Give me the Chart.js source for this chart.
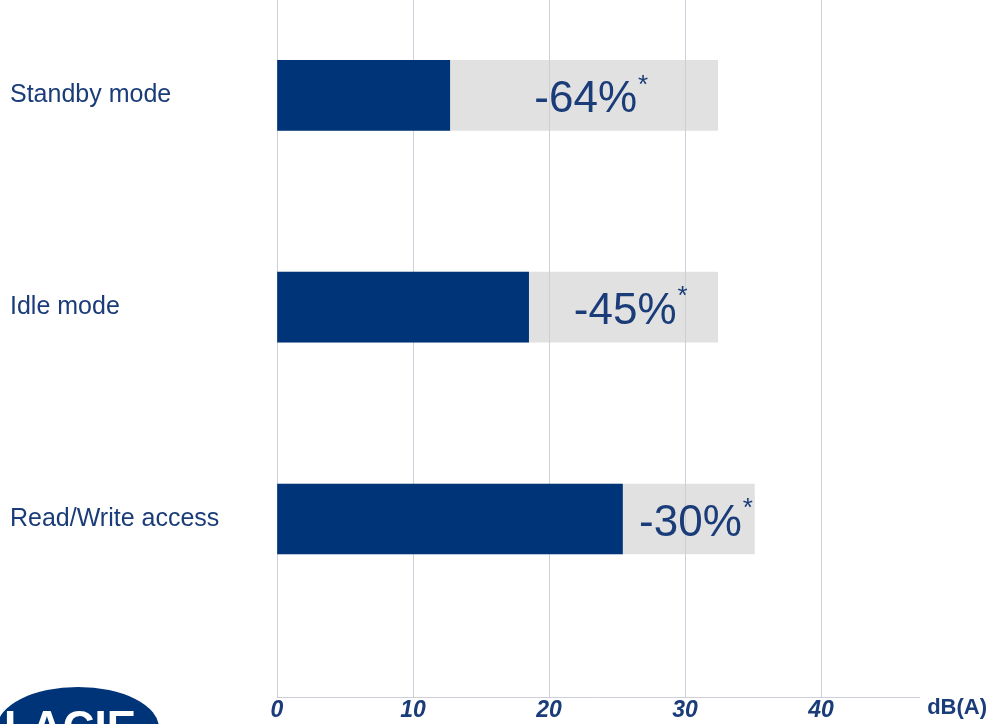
<!DOCTYPE html>
<html>
<head>
<meta charset="utf-8">
<script src="https://cdn.jsdelivr.net/npm/chart.js@4/dist/chart.umd.min.js"></script>
<style>
  html, body { margin: 0; padding: 0; background: #fff; }
  #wrap { width: 990px; height: 724px; position: relative; }
</style>
</head>
<body>
<div id="wrap"><canvas id="myChart"></canvas></div>
<script>
// data (dB(A))
var modes = ["Standby mode", "Idle mode", "Read/Write access"];
var newDrive = [12.7, 18.5, 25.4];
var oldDrive = [32.4, 32.4, 35.1];
var reductions = ["-64%", "-45%", "-30%"];
var xTicks = [0, 10, 20, 30, 40];

var navy = '#003478';
var textNavy = '#1a3c78';

// percent labels inside the grey part + unit + logo
var extras = {
  id: 'extras',
  afterDatasetsDraw: function(chart) {
    var ctx = chart.ctx;
    var dark = chart.getDatasetMeta(0).data;
    var grey = chart.getDatasetMeta(1).data;
    ctx.save();
    for (var i = 0; i < reductions.length; i++) {
      var cx = (dark[i].x + grey[i].x) / 2 + 2;
      var cy = dark[i].y + 5;
      ctx.font = '44px "Liberation Sans", Arial, sans-serif';
      ctx.fillStyle = textNavy;
      ctx.textBaseline = 'middle';
      ctx.textAlign = 'center';
      ctx.fillText(reductions[i], cx, cy);
      var w = ctx.measureText(reductions[i]).width;
      ctx.font = '26px "Liberation Sans", Arial, sans-serif';
      ctx.textAlign = 'left';
      ctx.fillText('*', cx + w / 2 + 1, cy - 15);
    }
    ctx.restore();
  },
  afterDraw: function(chart) {
    var ctx = chart.ctx;
    ctx.save();
    ctx.font = 'bold 22px "Liberation Sans", Arial, sans-serif';
    ctx.fillStyle = textNavy;
    ctx.textAlign = 'right';
    ctx.textBaseline = 'middle';
    ctx.fillText('dB(A)', 987, 708);
    // logo
    ctx.fillStyle = navy;
    ctx.beginPath();
    ctx.ellipse(78, 728, 81, 41, 0, 0, Math.PI * 2);
    ctx.fill();
    ctx.fillStyle = '#fff';
    ctx.font = 'bold 44px "Liberation Sans", Arial, sans-serif';
    ctx.textAlign = 'left';
    ctx.textBaseline = 'alphabetic';
    ctx.fillText('LACIE', 4, 742);
    ctx.restore();
  }
};

var ctx = document.getElementById("myChart").getContext('2d');
var chart = new Chart(ctx, {
  type: 'bar',
  data: {
    datasets: [{
      label: 'new',
      data: newDrive.map(function(v, i) { return { x: v, y: i }; }),
      backgroundColor: navy,
      barThickness: 70,
      grouped: false
    }, {
      label: 'old',
      data: oldDrive.map(function(v, i) { return { x: v, y: i }; }),
      backgroundColor: 'rgba(205,205,205,0.6)',
      barThickness: 70,
      grouped: false
    }]
  },
  plugins: [extras],
  options: {
    indexAxis: 'y',
    responsive: true,
    maintainAspectRatio: false,
    animation: false,
    layout: { padding: { left: 10, top: 0, right: 71, bottom: 0 } },
    plugins: { legend: { display: false }, tooltip: { enabled: false } },
    scales: {
      x: {
        type: 'linear',
        min: 0,
        max: 47.2,
        afterBuildTicks: function(scale) {
          scale.ticks = xTicks.map(function(v) { return { value: v }; });
        },
        afterFit: function(scale) { scale.height = 27; },
        grid: { color: '#cdd0dc', drawTicks: false, lineWidth: 1 },
        border: { color: '#cdd0dc' },
        ticks: {
          padding: 0,
          color: textNavy,
          font: { family: '"Liberation Sans", Arial, sans-serif', size: 23, style: 'italic', weight: 'bold' }
        }
      },
      y: {
        type: 'linear',
        reverse: true,
        offset: false,
        min: -0.45,
        max: 2.84,
        afterBuildTicks: function(scale) {
          scale.ticks = modes.map(function(m, i) { return { value: i }; });
        },
        afterFit: function(scale) {
          scale.width = 267;
          scale.paddingTop = 0;
          scale.paddingBottom = 0;
        },
        grid: { display: false, offset: false },
        border: { display: false },
        ticks: {
          crossAlign: 'far',
          color: textNavy,
          font: { family: '"Liberation Sans", Arial, sans-serif', size: 25 },
          callback: function(v) { return modes[v]; }
        }
      }
    }
  }
});
</script>
</body>
</html>
